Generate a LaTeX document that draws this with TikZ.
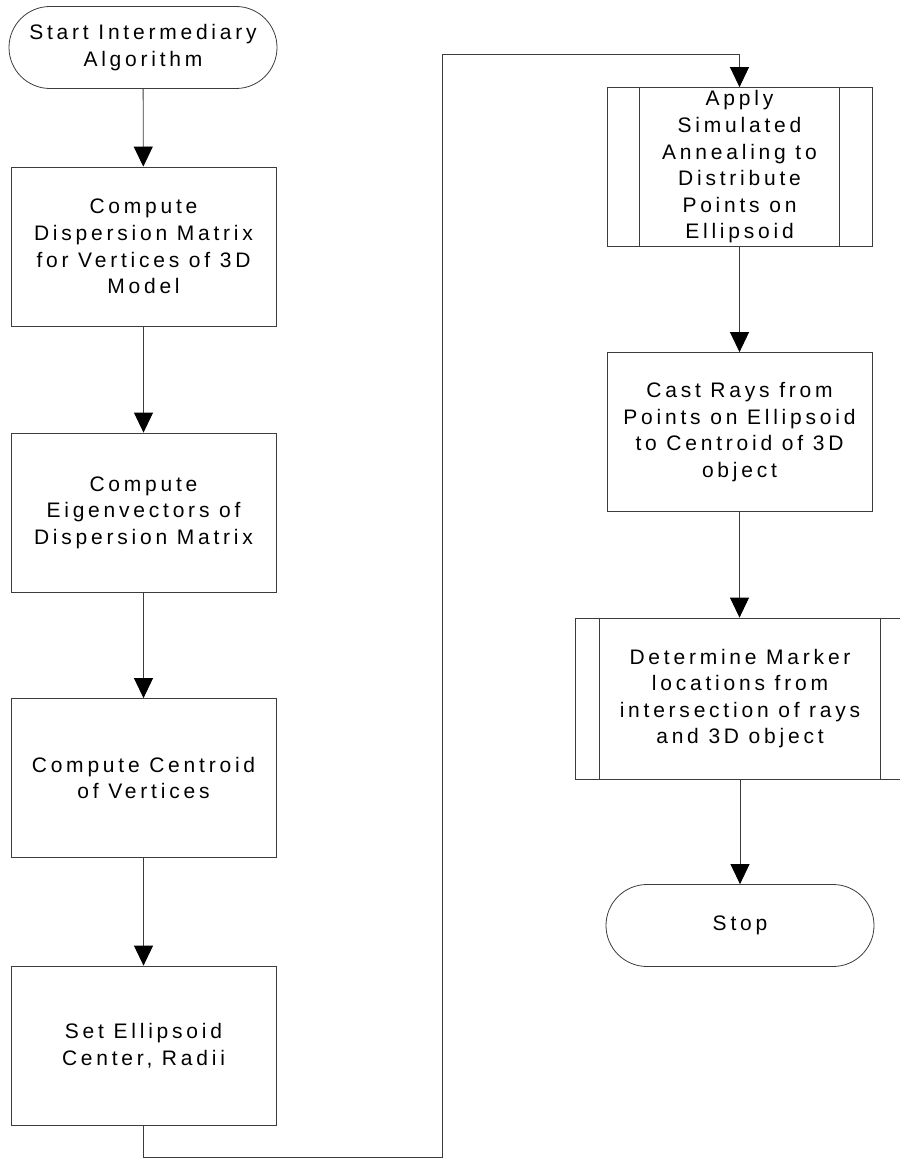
\documentclass[tikz,border=0pt]{standalone}
\usepackage{fontspec}
\usepackage{tikz}
\usetikzlibrary{shapes.misc, arrows.meta}

\newfontfamily\flowfont{Liberation Sans}[LetterSpace=18]
\definecolor{flowgrey}{RGB}{60,60,60}

\tikzset{
  procbox/.style={draw=flowgrey, line width=0.8pt, minimum width=265pt, minimum height=159pt,
    inner sep=0pt, align=center, font=\flowfont\fontsize{21}{26.6}\selectfont},
  termbox/.style={procbox, rounded rectangle, minimum width=268pt, minimum height=82pt},
  flowarrow/.style={draw=flowgrey, line width=0.8pt, -{Triangle[length=20pt,width=19pt,color=black]}}
}

\begin{document}
\begin{tikzpicture}[x=1pt,y=-1pt]
    \useasboundingbox (0,0) rectangle (899,1158);

    % Left column
    \node[termbox] (start) at (143,47.5) {Start Intermediary\\Algorithm};
    \node[procbox] (dispmat) at (143.5,246.5) {Compute\\Dispersion Matrix\\for Vertices of 3D\\Model};
    \node[procbox] (eigvec) at (143.5,512.5) {Compute\\Eigenvectors of\\Dispersion Matrix};
    \node[procbox] (centroid) at (143.5,778) {Compute Centroid\\of Vertices};
    \node[procbox] (ellipsoid) at (143.5,1045.5) {Set Ellipsoid\\Center, Radii};

    % Right column
    \node[procbox] (anneal) at (739.5,167) {Apply\\Simulated\\Annealing to\\Distribute\\Points on\\Ellipsoid};
    \node[procbox] (castrays) at (739.5,432) {Cast Rays from\\Points on Ellipsoid\\to Centroid of 3D\\object};
    \node[procbox, minimum width=330pt, minimum height=161pt] (markers) at (740,698.5) {Determine Marker\\locations from\\intersection of rays\\and 3D object};
    \node[termbox] (stop) at (740,925.5) {Stop};

    % Predefined process side bars
    \draw[flowgrey, line width=0.8pt] ([xshift=33pt]anneal.north west) -- ([xshift=33pt]anneal.south west);
    \draw[flowgrey, line width=0.8pt] ([xshift=-33pt]anneal.north east) -- ([xshift=-33pt]anneal.south east);
    \draw[flowgrey, line width=0.8pt] ([xshift=25pt]markers.north west) -- ([xshift=25pt]markers.south west);
    \draw[flowgrey, line width=0.8pt] ([xshift=-25pt]markers.north east) -- ([xshift=-25pt]markers.south east);

    % Connectors
    \coordinate (loopbot) at (442,1157);
    \coordinate (looptop) at (442,54);
    \draw[flowarrow] (start) -- (dispmat);
    \draw[flowarrow] (dispmat) -- (eigvec);
    \draw[flowarrow] (eigvec) -- (centroid);
    \draw[flowarrow] (centroid) -- (ellipsoid);
    \draw[flowarrow] (ellipsoid.south) |- (loopbot) -- (looptop) -| (anneal.north);
    \draw[flowarrow] (anneal) -- (castrays);
    \draw[flowarrow] (castrays.south) -- (markers.north -| castrays.south);
    \draw[flowarrow] (markers) -- (stop);
\end{tikzpicture}
\end{document}
